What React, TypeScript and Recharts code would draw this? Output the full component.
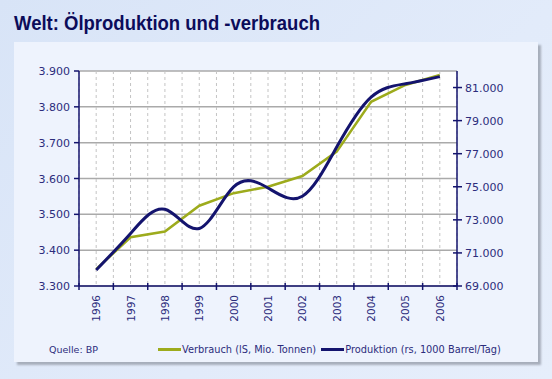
import { LineChart, Line, XAxis, YAxis, CartesianGrid } from 'recharts'

const years = [1996, 1997, 1998, 1999, 2000, 2001, 2002, 2003, 2004, 2005, 2006]
const verbrauch = [3347, 3436, 3452, 3524, 3559, 3577, 3607, 3675, 3814, 3861, 3889]
const produktion = [69970, 72180, 73640, 72480, 74990, 74930, 74430, 77400, 80420, 81230, 81660]

const leftTicks = [3300, 3400, 3500, 3600, 3700, 3800, 3900]
const rightTicks = [69000, 71000, 73000, 75000, 77000, 79000, 81000]
const xTicks = [1995.5, 1996, 1996.5, 1997, 1997.5, 1998, 1998.5, 1999, 1999.5, 2000, 2000.5, 2001, 2001.5,
  2002, 2002.5, 2003, 2003.5, 2004, 2004.5, 2005, 2005.5, 2006, 2006.5]

const data = years.map((year, i) => ({ year, verbrauch: verbrauch[i], produktion: produktion[i] }))

const NAVY = '#14146e'
const GREEN = '#9dab1c'
const LABEL = '#2c2c7c'
const FONT = '"DejaVu Sans", Verdana, sans-serif'

const fmt = (v: number) => String(v).replace(/\B(?=(\d{3})+(?!\d))/g, '.')

const LeftTick = ({ x, y, payload }: any) => (
  <g>
    <line x1={x - 5} x2={x} y1={y} y2={y} stroke={NAVY} strokeWidth={1.5} />
    <text x={x - 9} y={y} dy={4} textAnchor="end" fill={LABEL} fontSize={11} fontFamily={FONT}>
      {fmt(payload.value)}
    </text>
  </g>
)

const RightTick = ({ x, y, payload }: any) => (
  <g>
    <line x1={x - 4} x2={x + 5} y1={y} y2={y} stroke={NAVY} strokeWidth={1.5} />
    <text x={x + 8} y={y} dy={4} textAnchor="start" fill={LABEL} fontSize={11} fontFamily={FONT}>
      {fmt(payload.value)}
    </text>
  </g>
)

const BottomTick = ({ x, y, payload }: any) => {
  const v = payload.value
  if (v % 1 !== 0) {
    return <line x1={x} x2={x} y1={y - 3} y2={y + 4} stroke={NAVY} strokeWidth={1.5} />
  }
  return (
    <text
      transform={`translate(${x + 4}, ${y + 9}) rotate(-90)`}
      textAnchor="end"
      fill={LABEL}
      fontSize={10.5}
      fontFamily={FONT}
    >
      {v}
    </text>
  )
}

export default function App() {
  return (
    <div
      style={{
        position: 'absolute',
        left: 0,
        top: 0,
        width: 552,
        height: 379,
        background: 'linear-gradient(135deg, #d8e4f7 0%, #e2ebfa 60%, #e6eefb 100%)',
        overflow: 'hidden',
      }}
    >
      <svg width={552} height={40} style={{ position: 'absolute', left: 0, top: 0 }}>
        <text
          x={14}
          y={30}
          fontSize={21}
          fontWeight="bold"
          fontFamily='"Liberation Sans", Arial, sans-serif'
          fill="#0c0c5a"
          textLength={306}
          lengthAdjust="spacingAndGlyphs"
        >
          Welt: Ölproduktion und -verbrauch
        </text>
      </svg>
      <div
        style={{
          position: 'absolute',
          left: 14,
          top: 42,
          width: 524,
          height: 320,
          background: '#eef3fd',
          boxShadow: '3px 3px 2px #a7aebb',
        }}
      />
      <div style={{ position: 'absolute', left: 0, top: 0 }}>
        <LineChart width={552} height={379} data={data} margin={{ top: 71, right: 35, bottom: 53, left: 19 }}>
          <CartesianGrid yAxisId="left" vertical={false} stroke="#aaaaaa" strokeWidth={1.5} fill="#ffffff" />
          <CartesianGrid yAxisId="left" horizontal={false} stroke="#c4c4c4" strokeDasharray="3 3" />
          <XAxis
            dataKey="year"
            type="number"
            domain={[1995.5, 2006.5]}
            ticks={xTicks}
            interval={0}
            tick={<BottomTick />}
            tickLine={false}
            tickSize={0}
            tickMargin={0}
            height={40}
            axisLine={{ stroke: NAVY, strokeWidth: 1.5 }}
          />
          <YAxis
            yAxisId="left"
            domain={[3300, 3900]}
            ticks={leftTicks}
            interval={0}
            tick={<LeftTick />}
            tickLine={false}
            tickSize={0}
            tickMargin={0}
            width={60}
            axisLine={{ stroke: NAVY, strokeWidth: 1.5 }}
            allowDataOverflow
          />
          <YAxis
            yAxisId="right"
            orientation="right"
            domain={[69000, 82000]}
            ticks={rightTicks}
            interval={0}
            tick={<RightTick />}
            tickLine={false}
            tickSize={0}
            tickMargin={0}
            width={60}
            axisLine={{ stroke: NAVY, strokeWidth: 1.5 }}
            allowDataOverflow
          />
          <Line
            yAxisId="left"
            type="linear"
            dataKey="verbrauch"
            stroke={GREEN}
            strokeWidth={2.5}
            dot={false}
            isAnimationActive={false}
          />
          <Line
            yAxisId="right"
            type="natural"
            dataKey="produktion"
            stroke={NAVY}
            strokeWidth={3}
            dot={false}
            isAnimationActive={false}
          />
        </LineChart>
      </div>
      <div
        style={{
          position: 'absolute',
          left: 49,
          top: 344,
          fontFamily: FONT,
          fontSize: 9.5,
          color: LABEL,
          whiteSpace: 'nowrap',
        }}
      >
        Quelle: BP
      </div>
      <div
        style={{
          position: 'absolute',
          left: 158,
          top: 344,
          fontFamily: FONT,
          fontSize: 9.8,
          color: LABEL,
          whiteSpace: 'nowrap',
          display: 'flex',
          alignItems: 'center',
        }}
      >
        <span style={{ display: 'inline-block', width: 23, height: 3, background: GREEN, marginRight: 1 }} />
        <span>Verbrauch (lS, Mio. Tonnen)</span>
        <span style={{ display: 'inline-block', width: 23, height: 3, background: NAVY, marginLeft: 5, marginRight: 1 }} />
        <span>Produktion (rs, 1000 Barrel/Tag)</span>
      </div>
    </div>
  )
}
